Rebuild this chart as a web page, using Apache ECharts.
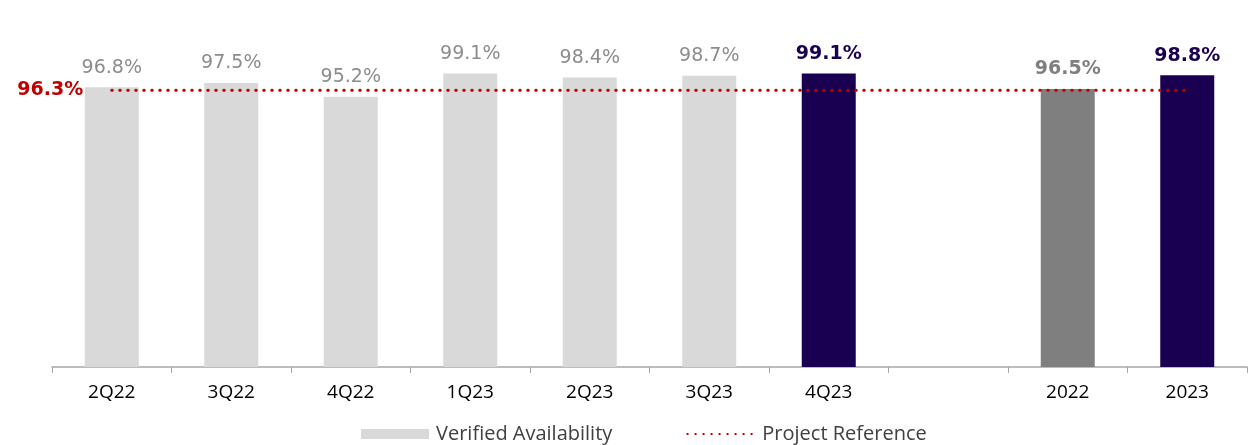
<!DOCTYPE html>
<html>
<head>
<meta charset="utf-8">
<script src="https://cdn.jsdelivr.net/npm/echarts@6/dist/echarts.min.js"></script>
<style>
  html, body { margin: 0; padding: 0; background: #fff; }
  #chart { width: 1252px; height: 445px; }
</style>
</head>
<body>
<div id="chart"></div>
<script>
// categories (one empty slot separates quarters from years)
var categories = ['2Q22', '3Q22', '4Q22', '1Q23', '2Q23', '3Q23', '4Q23', '', '2022', '2023'];
var availability = [96.8, 97.5, 95.2, 99.1, 98.4, 98.7, 99.1, null, 96.5, 98.8];
var reference = [96.3, 96.3, 96.3, 96.3, 96.3, 96.3, 96.3, 96.3, 96.3, 96.3];

// bar look per category: light quarters, highlighted latest quarter / years
var barColors = ['#d9d9d9', '#d9d9d9', '#d9d9d9', '#d9d9d9', '#d9d9d9', '#d9d9d9', '#1a0050', null, '#7f7f7f', '#1a0050'];
var labelColors = ['#8c8c8c', '#8c8c8c', '#8c8c8c', '#8c8c8c', '#8c8c8c', '#8c8c8c', '#1a0050', null, '#7f7f7f', '#1a0050'];
var labelBold = [false, false, false, false, false, false, true, false, true, true];

var myChart = echarts.init(document.getElementById('chart'));

var barData = availability.map(function (v, i) {
    if (v == null) return '-';
    return {
        value: v,
        itemStyle: { color: barColors[i] },
        label: { color: labelColors[i], fontWeight: labelBold[i] ? 'bold' : 'normal' }
    };
});

// only the first point carries the "96.3%" label, left of the line
var refData = reference.map(function (v, i) {
    if (i === 0) {
        return {
            value: v,
            label: {
                show: true,
                position: 'left',
                distance: 28,
                formatter: '{c}%',
                color: '#c00000',
                fontWeight: 'bold',
                fontSize: 19,
                fontFamily: 'DejaVu Sans'
            }
        };
    }
    return v;
});

var option = {
    animation: false,
    grid: { left: 52, right: 5, top: 68, bottom: 78 },
    legend: {
        left: 356,
        top: 419,
        itemWidth: 68,
        itemHeight: 10,
        itemGap: 74,
        textStyle: { color: '#404040', fontSize: 20, fontFamily: 'Open Sans', padding: [0, 0, 0, 2] },
        data: [
            { name: 'Verified Availability', icon: 'rect', itemStyle: { color: '#d9d9d9' } },
            { name: 'Project Reference' }
        ]
    },
    xAxis: {
        type: 'category',
        data: categories,
        axisLine: { lineStyle: { color: '#a6a6a6', width: 1.5 } },
        axisTick: { show: true, length: 6, lineStyle: { color: '#a6a6a6' } },
        axisLabel: { color: '#000', fontSize: 19, fontFamily: 'Open Sans', margin: 16 }
    },
    yAxis: {
        type: 'value',
        min: 50,
        max: 100,
        show: false
    },
    series: [
        {
            name: 'Verified Availability',
            type: 'bar',
            barWidth: 54,
            itemStyle: { color: '#d9d9d9' },
            label: {
                show: true,
                position: 'top',
                distance: 10,
                formatter: '{c}%',
                fontSize: 19,
                fontFamily: 'DejaVu Sans'
            },
            data: barData
        },
        {
            name: 'Project Reference',
            type: 'line',
            symbol: 'circle',
            symbolSize: 1,
            showSymbol: true,
            z: 5,
            lineStyle: { color: '#c00000', width: 3, type: [0.5, 7.5], cap: 'round' },
            itemStyle: { color: 'transparent', borderWidth: 0 },
            data: refData
        }
    ]
};

myChart.setOption(option);
</script>
</body>
</html>
